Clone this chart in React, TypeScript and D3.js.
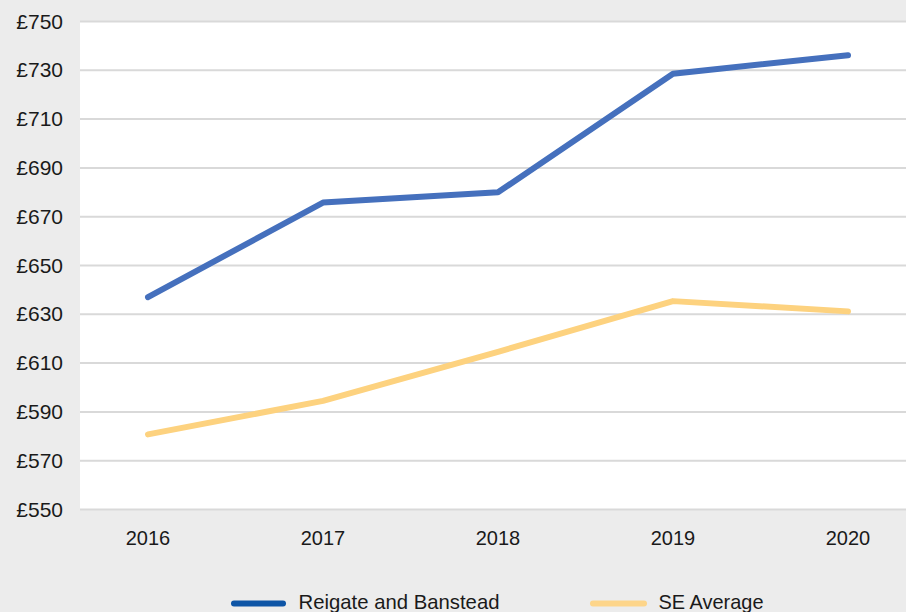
import React from "react";
import * as d3 from "d3";

const years = ["2016", "2017", "2018", "2019", "2020"];
const reigate = [637, 675.8, 680, 728.6, 736.2];
const seAverage = [580.8, 594.5, 614.6, 635.4, 631.2];
const yTicks = [550, 570, 590, 610, 630, 650, 670, 690, 710, 730, 750];
const seriesNames = ["Reigate and Banstead", "SE Average"];

const W = 906;
const H = 612;
const FONT = "'Liberation Sans', Arial, Helvetica, sans-serif";

export default function App() {
  const x = d3.scalePoint<string>().domain(years).range([148, 848]);
  const y = d3.scaleLinear().domain([550, 750]).range([509.5, 21.5]);
  const line = d3
    .line<number>()
    .x((_, i) => x(years[i]) as number)
    .y((d) => y(d));

  const plotLeft = 80;
  const plotRight = 906;

  return (
    <svg
      width={W}
      height={H}
      style={{ position: "fixed", left: 0, top: 0, display: "block" }}
      fontFamily={FONT}
    >
      <rect x={0} y={0} width={W} height={H} fill="#ececec" />
      <rect x={plotLeft} y={y(750)} width={plotRight - plotLeft} height={y(550) - y(750)} fill="#ffffff" />
      {yTicks.map((t) => (
        <g key={t}>
          <line x1={plotLeft} x2={plotRight} y1={y(t)} y2={y(t)} stroke="#d9d9d9" strokeWidth={2} />
          <text x={63} y={y(t) + 7} textAnchor="end" fontSize={21} fill="#1a1a1a">
            {"£" + t}
          </text>
        </g>
      ))}
      {years.map((yr) => (
        <text key={yr} x={x(yr)} y={545} textAnchor="middle" fontSize={20} fill="#1a1a1a">
          {yr}
        </text>
      ))}
      <path d={line(seAverage) || ""} fill="none" stroke="#fdd27f" strokeWidth={6} strokeLinecap="round" strokeLinejoin="round" />
      <path d={line(reigate) || ""} fill="none" stroke="#4570bd" strokeWidth={6} strokeLinecap="round" strokeLinejoin="round" />
      <g>
        <line x1={234} x2={283} y1={603.5} y2={603.5} stroke="#0e55a6" strokeWidth={6} strokeLinecap="round" />
        <text x={298.5} y={609} fontSize={21} fill="#1a1a1a" textLength={201} lengthAdjust="spacingAndGlyphs">
          {seriesNames[0]}
        </text>
        <line x1={593} x2={644} y1={603.5} y2={603.5} stroke="#fdd58a" strokeWidth={6} strokeLinecap="round" />
        <text x={658.5} y={609} fontSize={21} fill="#1a1a1a" textLength={105} lengthAdjust="spacingAndGlyphs">
          {seriesNames[1]}
        </text>
      </g>
    </svg>
  );
}
